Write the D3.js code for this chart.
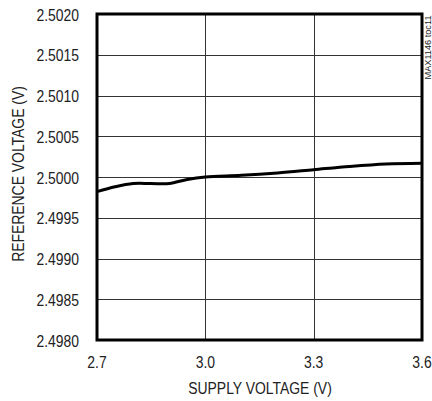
<!DOCTYPE html>
<html>
<head>
<meta charset="utf-8">
<script src="https://cdn.jsdelivr.net/npm/d3@7"></script>
<style>
  body { margin: 0; background: #fff; }
  text { font-family: "Liberation Sans Narrow", "Arial Narrow", "Liberation Sans", sans-serif; fill: #222; }
</style>
</head>
<body>
<div id="chart"></div>
<script>
// Data
const supplyV = [2.70, 2.75, 2.80, 2.85, 2.90, 2.95, 3.00, 3.10, 3.20, 3.30, 3.40, 3.50, 3.60];
const refV    = [2.49982, 2.49988, 2.49992, 2.49992, 2.49992, 2.49997, 2.50000, 2.50002, 2.50005, 2.50009, 2.50013, 2.50016, 2.50017];
const xTicks  = [2.7, 3.0, 3.3, 3.6];
const yTicks  = [2.4980, 2.4985, 2.4990, 2.4995, 2.5000, 2.5005, 2.5010, 2.5015, 2.5020];

const config = {
  width  : 432,
  height : 401,
  left   : 97,
  right  : 422,
  top    : 14,
  bottom : 340,
  squeeze: 0.87   // horizontal squeeze to mimic the condensed face
};

const svg = d3.select("#chart")
  .append("svg")
    .attr("width", config.width)
    .attr("height", config.height);

const x = d3.scaleLinear().domain([2.7, 3.6]).range([config.left, config.right]);
const y = d3.scaleLinear().domain([2.4980, 2.5020]).range([config.bottom, config.top]);

// grid
svg.append("g")
  .selectAll("line")
  .data(yTicks)
  .enter().append("line")
    .attr("x1", config.left).attr("x2", config.right)
    .attr("y1", d => Math.round(y(d)) + 0.5).attr("y2", d => Math.round(y(d)) + 0.5)
    .attr("stroke", "#333").attr("stroke-width", 1);

svg.append("g")
  .selectAll("line")
  .data(xTicks)
  .enter().append("line")
    .attr("y1", config.top).attr("y2", config.bottom)
    .attr("x1", d => Math.round(x(d)) + 0.5).attr("x2", d => Math.round(x(d)) + 0.5)
    .attr("stroke", "#333").attr("stroke-width", 1);

// curve
const line = d3.line()
  .x((d, i) => x(supplyV[i]))
  .y(d => y(d))
  .curve(d3.curveCatmullRom.alpha(0.5));

svg.append("path")
  .datum(refV)
  .attr("d", line)
  .attr("fill", "none")
  .attr("stroke", "#000")
  .attr("stroke-width", 3);

// frame
svg.append("rect")
  .attr("x", config.left).attr("y", config.top)
  .attr("width", config.right - config.left)
  .attr("height", config.bottom - config.top)
  .attr("fill", "none")
  .attr("stroke", "#000")
  .attr("stroke-width", 3);

// tick labels
svg.append("g")
  .selectAll("text")
  .data(yTicks)
  .enter().append("text")
    .attr("transform", d => "translate(79," + (y(d) + 6.5) + ") scale(" + config.squeeze + ",1)")
    .attr("text-anchor", "end")
    .style("font-size", "16px")
    .text(d => d3.format(".4f")(d));

svg.append("g")
  .selectAll("text")
  .data(xTicks)
  .enter().append("text")
    .attr("transform", d => "translate(" + x(d) + ",368) scale(" + config.squeeze + ",1)")
    .attr("text-anchor", "middle")
    .style("font-size", "16px")
    .text(d => d3.format(".1f")(d));

// axis titles
svg.append("text")
  .attr("transform", "translate(260,394) scale(" + config.squeeze + ",1)")
  .attr("text-anchor", "middle")
  .style("font-size", "16px")
  .text("SUPPLY VOLTAGE (V)");

svg.append("text")
  .attr("transform", "translate(24,174) rotate(-90) scale(" + config.squeeze + ",1)")
  .attr("text-anchor", "middle")
  .style("font-size", "16px")
  .text("REFERENCE VOLTAGE (V)");

svg.append("text")
  .attr("transform", "translate(431,47.5) rotate(-90)")
  .attr("text-anchor", "middle")
  .attr("textLength", 64)
  .attr("lengthAdjust", "spacingAndGlyphs")
  .style("font-size", "8.5px")
  .text("MAX1146 toc11");
</script>
</body>
</html>
